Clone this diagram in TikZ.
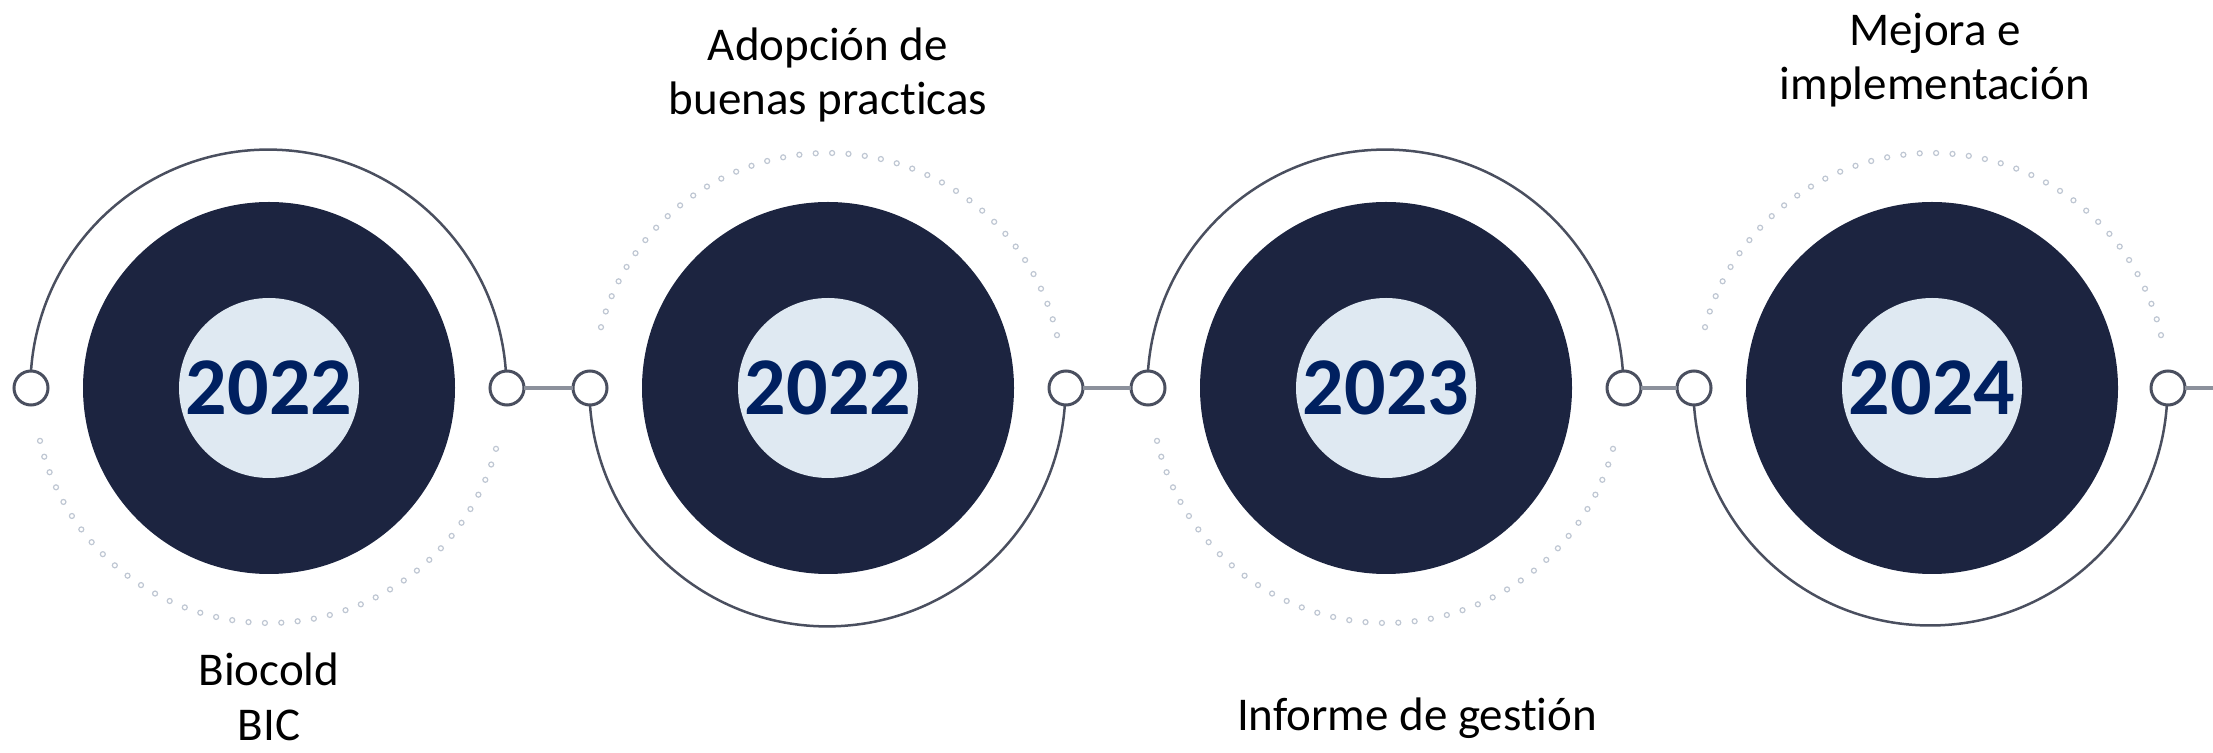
\documentclass[tikz,border=0pt]{standalone}
\usepackage{fontspec}
\setmainfont{Carlito}[Ligatures=NoCommon]
\definecolor{navy}{HTML}{1C2440}
\definecolor{ice}{HTML}{DFE9F2}
\definecolor{yearblue}{HTML}{002060}
\definecolor{wire}{HTML}{4A4F5F}
\definecolor{bar}{HTML}{8C919C}
\definecolor{speck}{HTML}{BFC7D3}

\begin{document}
\begin{tikzpicture}[x=1pt,y=1pt,
    hub/.style={circle,fill=navy,minimum size=372pt,inner sep=0pt},
    core/.style={circle,fill=ice,minimum size=180pt,inner sep=0pt,text=yearblue,font=\bfseries\fontsize{82}{90}\selectfont},
    port/.style={circle,draw=wire,line width=3pt,fill=white,minimum size=34pt,inner sep=0pt,outer sep=0pt},
    wireline/.style={draw=wire,line width=2.5pt},
    barline/.style={draw=bar,line width=4.5pt},
    dotmark/.style={draw=speck,line width=1.2pt},
    stage/.style={align=center,anchor=base,inner sep=0pt,font=\fontsize{47}{54}\selectfont}]
            \useasboundingbox (0,0) rectangle (2213,752);
            \begin{scope}[shift={(269,0)}]
                \node[hub] (ring1) at (0,364) {};
                \node[core] (year1) at (0,364) {2022};
                \node[port] (pa1) at (-238,364) {};
                \node[port] (pb1) at (238,364) {};
                \draw[wireline] (pa1.north) arc[start angle=176,end angle=4,radius=238];
                \foreach \a in {193,197,...,347} \draw[dotmark] (ring1.center) ++(\a:235) circle[radius=2.5];
                \node[stage] (txt1) at (0,12) {Biocold\\BIC};
            \end{scope}
            \begin{scope}[shift={(828,0)}]
                \node[hub] (ring2) at (0,364) {};
                \node[core] (year2) at (0,364) {2022};
                \node[port] (pa2) at (-238,364) {};
                \node[port] (pb2) at (238,364) {};
                \draw[wireline] (pa2.south) arc[start angle=184,end angle=356,radius=238];
                \foreach \a in {13,17,...,167} \draw[dotmark] (ring2.center) ++(\a:235) circle[radius=2.5];
                \node[stage] (txt2) at (0,637) {Adopción de\\buenas practicas};
            \end{scope}
            \begin{scope}[shift={(1386,0)}]
                \node[hub] (ring3) at (0,364) {};
                \node[core] (year3) at (0,364) {2023};
                \node[port] (pa3) at (-238,364) {};
                \node[port] (pb3) at (238,364) {};
                \draw[wireline] (pa3.north) arc[start angle=176,end angle=4,radius=238];
                \foreach \a in {193,197,...,347} \draw[dotmark] (ring3.center) ++(\a:235) circle[radius=2.5];
                \node[stage] (txt3) at (31,22) {Informe de gestión};
            \end{scope}
            \begin{scope}[shift={(1932,0)}]
                \node[hub] (ring4) at (0,364) {};
                \node[core] (year4) at (0,364) {2024};
                \node[port] (pa4) at (-238,364) {};
                \node[port] (pb4) at (236,364) {};
                \draw[wireline] (pa4.south) arc[start angle=184,end angle=356,radius=237];
                \foreach \a in {13,17,...,167} \draw[dotmark] (ring4.center) ++(\a:235) circle[radius=2.5];
                \node[stage] (txt4) at (3,652) {Mejora e\\implementación};
            \end{scope}
            \coordinate (tail) at (2213,364);
            \draw[barline] (pb1) -- (pa2);
            \draw[barline] (pb2) -- (pa3);
            \draw[barline] (pb3) -- (pa4);
            \draw[barline] (pb4) -- (tail);
        \end{tikzpicture}
\end{document}
